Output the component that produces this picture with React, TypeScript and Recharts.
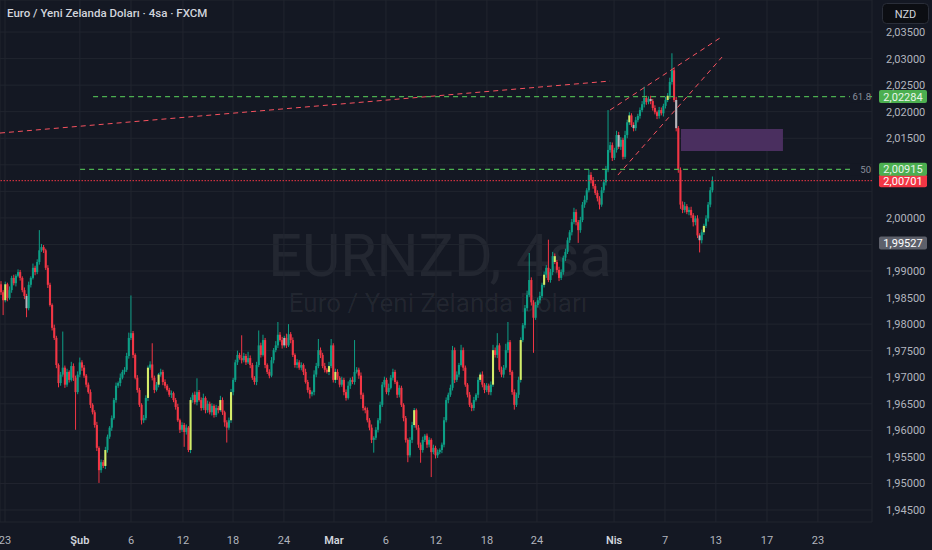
import { ComposedChart, Bar, XAxis, YAxis, CartesianGrid, ReferenceLine, ReferenceArea } from 'recharts'

// 4h closes in pips (price * 10000) left to right; open = previous close
const firstOpenPip = 19875
const closePips = [
  19860, 19845, 19875, 19849, 19864, 19887, 19877, 19891, 19898, 19887,
  19864, 19853, 19830, 19874, 19887, 19906, 19898, 19917, 19939, 19945,
  19939, 19906, 19874, 19836, 19793, 19774, 19723, 19689, 19705, 19718,
  19686, 19710, 19695, 19721, 19699, 19672, 19705, 19728, 19718, 19703,
  19686, 19672, 19648, 19634, 19610, 19567, 19525, 19540, 19533, 19563,
  19588, 19605, 19623, 19657, 19684, 19689, 19699, 19710, 19714, 19740,
  19774, 19783, 19742, 19699, 19676, 19648, 19619, 19623, 19661, 19718,
  19724, 19699, 19676, 19686, 19705, 19710, 19691, 19684, 19676, 19667,
  19670, 19657, 19644, 19619, 19601, 19610, 19597, 19605, 19563, 19657,
  19667, 19653, 19672, 19657, 19642, 19661, 19638, 19650, 19634, 19646,
  19629, 19642, 19638, 19657, 19634, 19615, 19605, 19619, 19672, 19695,
  19728, 19742, 19736, 19732, 19740, 19728, 19736, 19723, 19699, 19691,
  19723, 19760, 19742, 19770, 19723, 19710, 19703, 19732, 19751, 19760,
  19780, 19770, 19760, 19774, 19760, 19781, 19770, 19742, 19723, 19728,
  19718, 19723, 19710, 19691, 19676, 19668, 19672, 19705, 19721, 19751,
  19742, 19721, 19714, 19710, 19721, 19760, 19695, 19710, 19699, 19686,
  19695, 19672, 19661, 19684, 19695, 19691, 19710, 19714, 19703, 19667,
  19642, 19638, 19619, 19605, 19582, 19586, 19601, 19619, 19648, 19686,
  19695, 19672, 19680, 19699, 19710, 19691, 19667, 19680, 19648, 19623,
  19582, 19553, 19582, 19610, 19638, 19605, 19573, 19563, 19582, 19590,
  19573, 19582, 19559, 19567, 19553, 19559, 19563, 19573, 19619, 19657,
  19667, 19680, 19751, 19695, 19705, 19723, 19751, 19718, 19686, 19667,
  19648, 19642, 19657, 19667, 19695, 19705, 19686, 19676, 19684, 19672,
  19686, 19751, 19742, 19760, 19714, 19705, 19718, 19751, 19766, 19710,
  19672, 19648, 19667, 19695, 19770, 19798, 19830, 19855, 19883, 19841,
  19812, 19836, 19845, 19853, 19874, 19893, 19906, 19883, 19898, 19928,
  19917, 19902, 19887, 19898, 19925, 19936, 19958, 19973, 19992, 20011,
  19992, 19977, 19996, 20025, 20034, 20052, 20081, 20071, 20060, 20047,
  20037, 20025, 20052, 20067, 20090, 20128, 20137, 20113, 20128, 20156,
  20134, 20147, 20115, 20156, 20180, 20193, 20175, 20169, 20184, 20192,
  20203, 20214, 20226, 20218, 20224, 20220, 20207, 20199, 20192, 20203,
  20197, 20211, 20222, 20230, 20256, 20278, 20222, 20169, 20090, 20025,
  20015, 20022, 20011, 20015, 20005, 19992, 19999, 19967, 19958, 19973,
  19985, 19999, 20025, 20052, 20070,
]
// wick lengths in pips above max(open, close) / below min(open, close)
const upperWick = [
  6, 4, 5, 3, 7, 4, 6, 3, 5, 4,
  3, 5, 4, 6, 3, 8, 4, 5, 38, 6,
  4, 3, 5, 4, 3, 6, 4, 3, 5, 68,
  4, 6, 3, 8, 5, 4, 6, 9, 4, 5,
  3, 4, 5, 3, 4, 6, 3, 5, 4, 6,
  4, 3, 5, 4, 6, 3, 8, 4, 5, 6,
  10, 71, 4, 3, 5, 4, 3, 6, 5, 4,
  6, 40, 4, 5, 3, 6, 4, 5, 3, 4,
  5, 3, 4, 6, 3, 5, 4, 6, 3, 5,
  4, 6, 26, 4, 5, 8, 3, 6, 4, 5,
  3, 6, 4, 8, 5, 3, 4, 5, 6, 4,
  5, 8, 4, 43, 6, 4, 12, 5, 4, 3,
  6, 28, 5, 10, 4, 3, 5, 6, 4, 8,
  24, 5, 6, 4, 8, 19, 4, 5, 3, 6,
  4, 5, 3, 6, 4, 5, 3, 8, 6, 21,
  5, 4, 6, 3, 8, 12, 4, 6, 5, 3,
  6, 4, 5, 8, 4, 6, 60, 5, 4, 6,
  4, 3, 5, 4, 6, 3, 5, 4, 6, 5,
  6, 4, 8, 5, 6, 4, 3, 5, 4, 3,
  4, 3, 5, 6, 4, 3, 5, 4, 6, 3,
  4, 5, 3, 6, 4, 5, 3, 4, 6, 5,
  4, 6, 8, 5, 6, 4, 10, 5, 4, 3,
  5, 4, 6, 3, 5, 4, 6, 3, 5, 4,
  6, 10, 5, 23, 4, 6, 5, 12, 38, 4,
  3, 5, 4, 6, 5, 4, 6, 8, 51, 5,
  4, 6, 5, 8, 4, 6, 5, 53, 6, 8,
  5, 4, 6, 5, 4, 6, 5, 4, 6, 8,
  5, 4, 6, 5, 8, 4, 10, 5, 6, 4,
  5, 4, 6, 5, 8, 75, 6, 5, 4, 8,
  6, 5, 4, 8, 5, 6, 4, 5, 6, 4,
  5, 6, 21, 4, 5, 6, 4, 5, 3, 6,
  5, 4, 6, 5, 8, 32, 5, 6, 4, 5,
  6, 8, 4, 5, 6, 4, 5, 6, 4, 5,
  4, 6, 5, 6, 8,
]
const lowerWick = [
  5, 28, 4, 6, 3, 5, 4, 6, 3, 5,
  4, 6, 17, 4, 5, 3, 6, 4, 5, 3,
  5, 4, 6, 3, 5, 4, 6, 8, 5, 4,
  6, 4, 5, 3, 6, 71, 4, 5, 6, 4,
  5, 3, 6, 4, 5, 6, 24, 5, 4, 6,
  5, 4, 6, 3, 5, 4, 6, 3, 5, 4,
  5, 4, 6, 3, 5, 4, 8, 5, 4, 6,
  4, 5, 6, 3, 5, 4, 6, 5, 3, 4,
  6, 4, 5, 3, 6, 4, 28, 5, 4, 6,
  5, 4, 6, 3, 5, 4, 6, 5, 4, 6,
  5, 4, 6, 3, 5, 8, 28, 4, 5, 6,
  4, 5, 3, 6, 4, 5, 3, 6, 4, 5,
  6, 4, 5, 3, 6, 4, 5, 3, 6, 4,
  5, 3, 6, 4, 5, 3, 6, 4, 5, 6,
  4, 5, 6, 3, 5, 8, 4, 6, 5, 4,
  6, 4, 5, 3, 6, 4, 5, 6, 4, 5,
  4, 6, 5, 3, 6, 4, 5, 3, 6, 8,
  5, 6, 4, 5, 6, 24, 4, 5, 6, 4,
  5, 4, 6, 3, 5, 4, 6, 5, 4, 6,
  5, 13, 4, 6, 5, 4, 6, 24, 5, 4,
  6, 5, 47, 4, 6, 5, 4, 6, 5, 4,
  6, 4, 5, 6, 4, 5, 3, 6, 4, 5,
  4, 6, 5, 3, 6, 4, 5, 6, 4, 5,
  6, 4, 5, 6, 4, 5, 6, 4, 5, 6,
  5, 9, 4, 6, 5, 4, 6, 5, 4, 6,
  66, 4, 5, 6, 4, 5, 6, 4, 5, 6,
  4, 5, 6, 4, 5, 6, 4, 5, 6, 4,
  6, 24, 5, 4, 6, 5, 4, 6, 5, 4,
  6, 9, 4, 5, 6, 4, 5, 6, 4, 5,
  4, 6, 5, 4, 6, 5, 4, 6, 5, 4,
  5, 4, 6, 5, 4, 6, 5, 4, 6, 5,
  4, 6, 5, 4, 6, 5, 4, 6, 5, 8,
  6, 5, 4, 6, 5, 8, 6, 5, 23, 6,
  5, 4, 6, 5, 4,
]
// candles painted yellow / pale grey by the bar-colour indicator
const yellowIdx = [2, 49, 69, 74, 89, 103, 108, 154, 157, 194, 225, 231, 244, 255, 260, 295, 313, 330]
const whiteIdx = [12, 133, 290, 297, 305, 317, 328]

// time axis: candle index of each label (weekends skipped, future space to the right)
const timeTicks = [1.85, 37, 61, 85.4, 108.9, 132.8, 156.3, 180.7, 204.2, 228.1, 251.6, 287.8, 311.7, 335.6, 359.6, 383.5]
const timeLabels = ['23', 'Şub', '6', '12', '18', '24', 'Mar', '6', '12', '18', '24', 'Nis', '7', '13', '17', '23']
const monthLabels = ['Şub', 'Mar', 'Nis']
const priceTicks = [
  1.945, 1.95, 1.955, 1.96, 1.965, 1.97, 1.975, 1.98, 1.985, 1.99, 1.995,
  2.0, 2.005, 2.01, 2.015, 2.02, 2.025, 2.03, 2.035,
]
// scale labels hidden behind the price badges
const hiddenPriceTicks = [1.995, 2.005, 2.01]

// drawings (candle index, price)
const trendLong = [{ x: -0.5, y: 2.01598 }, { x: 285.9, y: 2.02577 }]
const channelUpper = [{ x: 285.9, y: 2.02031 }, { x: 337.5, y: 2.03387 }]
const channelLower = [{ x: 289.6, y: 2.00807 }, { x: 338.5, y: 2.03029 }]
const fibLevels = [
  { level: '61.8', price: 2.02284, start: 43.2 },
  { level: '50', price: 2.00915, start: 37.1 },
]
const lastPrice = 2.00701
const greyPrice = 1.99527
const zone = { x1: 319.2, x2: 367.1, y1: 2.01259, y2: 2.01674 }

const X_DOMAIN: [number, number] = [-0.5, 408.9]
const Y_DOMAIN: [number, number] = [1.94274, 2.04103]

const BG = '#141823'
const UP = '#0d9f86'
const DOWN = '#f23645'
const YELLOW = '#d4ec6a'
const PALE = '#b4b7bd'
const FIB = '#4caf50'
const TREND = '#f7525f'
const FONT = 'Roboto, "Noto Sans", sans-serif'

const candles = closePips.map((cp, i) => {
  const op = i === 0 ? firstOpenPip : closePips[i - 1]
  const h = (Math.max(op, cp) + upperWick[i]) / 10000
  const l = (Math.min(op, cp) - lowerWick[i]) / 10000
  return { i, o: op / 10000, c: cp / 10000, h, l, range: [l, h] }
})

const fmt = (v: number) => v.toFixed(5).replace('.', ',')

function Candle(props: any) {
  const { x, y, width, height, payload } = props
  if (!payload || !height) return null
  const { i, o, c, h, l } = payload
  const k = height / (h - l)
  const cx = x + width / 2
  const top = y + (h - Math.max(o, c)) * k
  const bot = y + (h - Math.min(o, c)) * k
  const color = c >= o ? UP : DOWN
  const body = yellowIdx.includes(i) ? YELLOW : whiteIdx.includes(i) ? PALE : color
  return (
    <g>
      <line x1={cx} x2={cx} y1={y} y2={y + height} stroke={color} strokeWidth={1} />
      <rect x={cx - 1.05} y={top} width={2.1} height={Math.max(bot - top, 1)} fill={body} />
    </g>
  )
}

function TimeTick({ x, y, payload }: any) {
  const label = timeLabels[timeTicks.indexOf(payload.value)]
  const month = monthLabels.includes(label)
  return (
    <text x={x} y={y + 4} textAnchor="middle" fontSize={11} fontFamily={FONT}
      fill={month ? '#d1d4dc' : '#b2b5be'} fontWeight={month ? 600 : 400}>
      {label}
    </text>
  )
}

function PriceTick({ x, y, payload }: any) {
  if (hiddenPriceTicks.includes(payload.value)) return null
  return (
    <text x={x} y={y + 4} fontSize={11} fontFamily={FONT} fill="#b2b5be">
      {fmt(payload.value)}
    </text>
  )
}

function PriceBadge({ viewBox, text, fill, color, level }: any) {
  if (!viewBox) return null
  const { x, y, width } = viewBox
  const left = x + width + 7
  return (
    <g>
      {level && (
        <g>
          <rect x={x + width - 22} y={y - 6} width={20} height={12} fill={BG} />
          <text x={x + width - 1} y={y + 3.5} textAnchor="end" fontSize={9.5} fontFamily={FONT} fill="#8a8f9c">
            {level}
          </text>
        </g>
      )}
      <rect x={left} y={y - 6.5} width={48} height={13} rx={2} fill={fill} />
      <text x={left + 24} y={y + 4} textAnchor="middle" fontSize={11} fontFamily={FONT} fill={color}>
        {text}
      </text>
    </g>
  )
}

export default function App() {
  return (
    <div style={{ position: 'relative', width: 932, height: 550, background: BG, overflow: 'hidden' }}>
      <style>{'body{margin:0;background:' + BG + '}'}</style>
      <svg width={932} height={550} style={{ position: 'absolute', left: 0, top: 0 }}>
        <text x={440} y={276} textAnchor="middle" fontSize={59} fontFamily={FONT} fill="#ffffff" fillOpacity={0.065}>
          EURNZD, 4sa
        </text>
        <text x={438} y={312} textAnchor="middle" fontSize={26} fontFamily={FONT} fill="#ffffff" fillOpacity={0.065}>
          Euro / Yeni Zelanda Doları
        </text>
      </svg>
      <div style={{ position: 'absolute', left: 0, top: 0 }}>
        <ComposedChart width={932} height={550} data={candles} margin={{ top: 0, right: 0, bottom: 0, left: 0 }}>
          <CartesianGrid stroke="#21252f" strokeWidth={1} />
          <XAxis
            type="number"
            dataKey="i"
            domain={X_DOMAIN}
            ticks={timeTicks}
            allowDataOverflow
            height={28}
            tickSize={0}
            tickMargin={18}
            axisLine={false}
            tickLine={false}
            tick={<TimeTick />}
            interval={0}
          />
          <YAxis
            orientation="right"
            domain={Y_DOMAIN}
            ticks={priceTicks}
            allowDataOverflow
            width={60}
            tickSize={0}
            tickMargin={14}
            axisLine={false}
            tickLine={false}
            tick={<PriceTick />}
            interval={0}
          />
          <ReferenceArea x1={zone.x1} x2={zone.x2} y1={zone.y1} y2={zone.y2} fill="#4a2f5f" fillOpacity={1} stroke="none" />
          <Bar dataKey="range" barSize={2} shape={<Candle />} isAnimationActive={false} />
          <ReferenceLine segment={trendLong} stroke={TREND} strokeDasharray="5 4" strokeWidth={1} />
          <ReferenceLine segment={channelUpper} stroke={TREND} strokeDasharray="5 4" strokeWidth={1} />
          <ReferenceLine segment={channelLower} stroke={TREND} strokeDasharray="5 4" strokeWidth={1} />
          {fibLevels.map((f) => (
            <ReferenceLine
              key={f.level}
              segment={[{ x: f.start, y: f.price }, { x: X_DOMAIN[1], y: f.price }]}
              stroke={FIB}
              strokeDasharray="5 4"
              strokeWidth={1.2}
            />
          ))}
          <ReferenceLine y={lastPrice} stroke={DOWN} strokeDasharray="1.5 1.5" strokeWidth={1}
            label={<PriceBadge text={fmt(lastPrice)} fill={DOWN} color="#ffffff" />} />
          {fibLevels.map((f) => (
            <ReferenceLine key={'b' + f.level} y={f.price} stroke="transparent" strokeWidth={0}
              label={<PriceBadge text={fmt(f.price)} fill="#4caf50" color="#e8f5e9" level={f.level} />} />
          ))}
          <ReferenceLine y={greyPrice} stroke="transparent" strokeWidth={0}
            label={<PriceBadge text={fmt(greyPrice)} fill="#5d606b" color="#ffffff" />} />
        </ComposedChart>
      </div>
      <svg width={932} height={550} style={{ position: 'absolute', left: 0, top: 0, pointerEvents: 'none' }}>
        <text x={7} y={17} fontSize={11.5} fontWeight={500} fontFamily={FONT} fill="#d1d4dc">
          Euro / Yeni Zelanda Doları · 4sa · FXCM
        </text>
        <rect x={882.5} y={3.5} width={46} height={20} rx={4} fill="#0c0e13" stroke="#2a2e39" />
        <text x={905.5} y={17.5} textAnchor="middle" fontSize={11} fontFamily={FONT} fill="#d1d4dc">
          NZD
        </text>
      </svg>
    </div>
  )
}
